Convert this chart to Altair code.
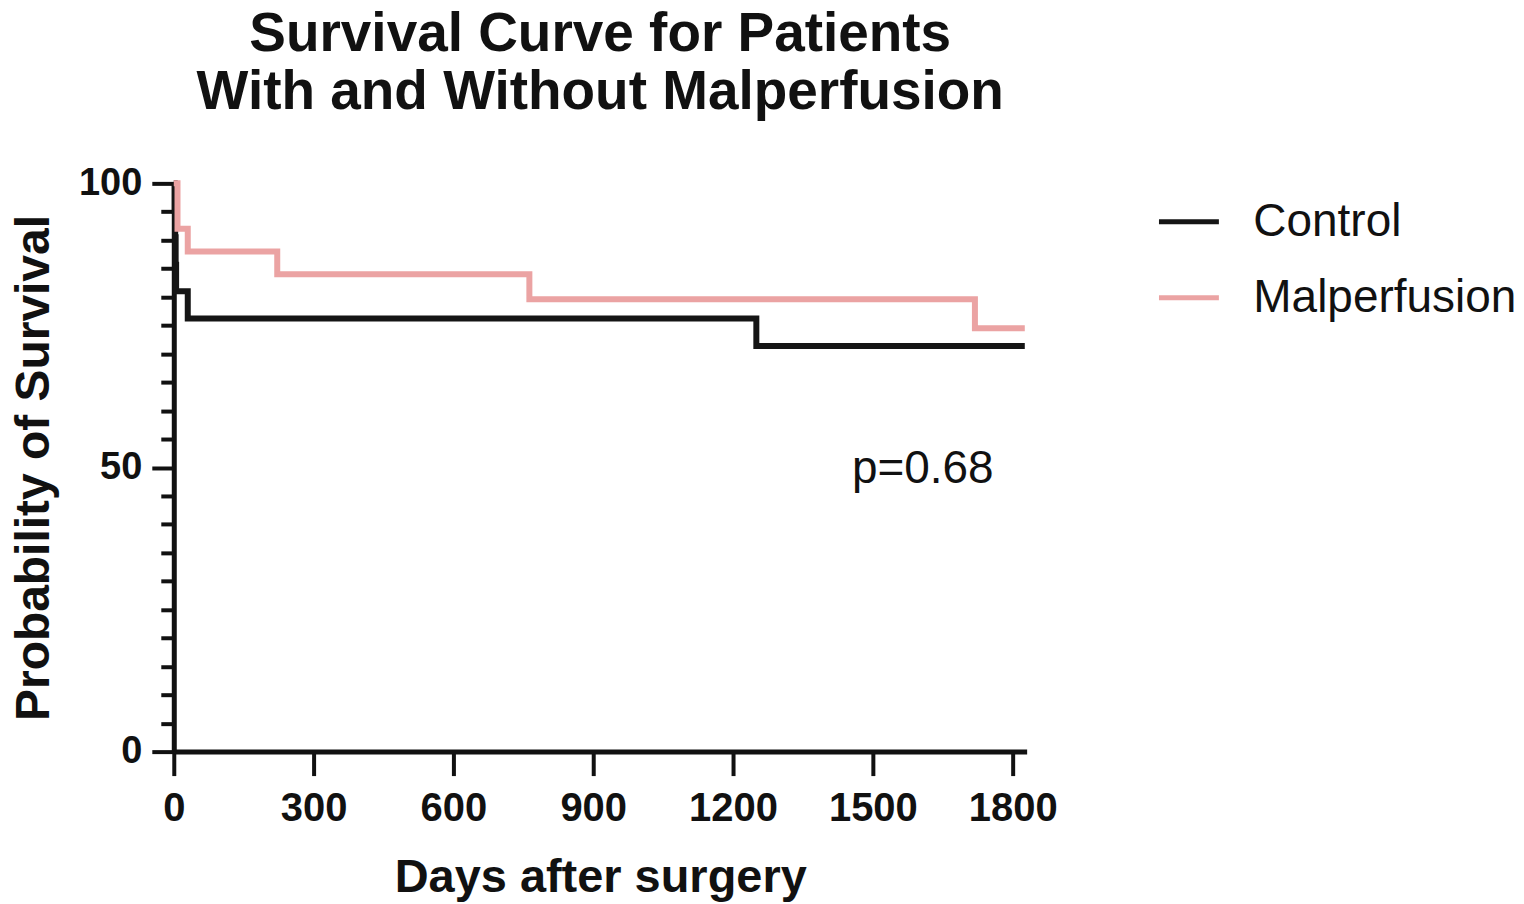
import altair as alt
import pandas as pd

# Kaplan-Meier step data
control_days = [0, 2, 3, 4, 5, 30, 1250, 1826]
control_surv = [100, 95.2, 90.5, 85.7, 81.0, 76.2, 71.4, 71.4]
mal_days = [0, 8, 30, 222, 763, 1719, 1826]
mal_surv = [100, 92.0, 88.0, 84.0, 79.6, 74.5, 74.5]
groups = ["Control", "Malperfusion"]
colors = ["#151515", "#EBA3A3"]
x_ticks = [0, 300, 600, 900, 1200, 1500, 1800]
y_ticks = list(range(0, 101, 5))
p_label = ["p=0.68"]
p_day = [1455]
p_surv = [47.3]

FONT = "Liberation Sans"

rows = []
for d, s in zip(control_days, control_surv):
    rows.append({"day": d, "surv": s, "group": groups[0]})
for d, s in zip(mal_days, mal_surv):
    rows.append({"day": d, "surv": s, "group": groups[1]})
df = pd.DataFrame(rows)
ann = pd.DataFrame({"day": p_day, "surv": p_surv, "label": p_label})

xscale = alt.Scale(domain=[0, 1830], nice=False, zero=True)
yscale = alt.Scale(domain=[0, 100], nice=False)

xaxis = alt.Axis(
    values=x_ticks, format="d", title="Days after surgery", grid=False,
    domainColor="#111", domainWidth=5, tickColor="#111", tickWidth=4, tickSize=24,
    labelFont=FONT, labelFontSize=40, labelFontWeight="bold", labelColor="#111",
    labelPadding=13, labelFlush=False,
    titleFont=FONT, titleFontSize=47, titleFontWeight="bold", titleColor="#111",
    titlePadding=26,
)
yaxis = alt.Axis(
    values=y_ticks, title="Probability of Survival", grid=False,
    labelExpr="datum.value % 50 === 0 ? datum.label : ''",
    domainColor="#111", domainWidth=5, tickColor="#111", tickWidth=4,
    tickSize={"condition": {"test": "datum.value % 50 === 0", "value": 22}, "value": 13},
    labelFont=FONT, labelFontSize=38, labelFontWeight="bold", labelColor="#111",
    labelPadding=10, labelFlush=False,
    titleFont=FONT, titleFontSize=48, titleFontWeight="bold", titleColor="#111",
    titlePadding=20,
)

lines = alt.Chart(df).mark_line(interpolate="step-after", strokeWidth=6).encode(
    x=alt.X("day:Q", scale=xscale, axis=xaxis),
    y=alt.Y("surv:Q", scale=yscale, axis=yaxis),
    color=alt.Color(
        "group:N",
        scale=alt.Scale(domain=groups, range=colors),
        legend=alt.Legend(
            title=None, orient="none", legendX=984, legendY=6,
            symbolType="stroke", symbolSize=3600, symbolStrokeWidth=5,
            labelFont=FONT, labelFontSize=46, labelColor="#111", labelOffset=32,
            rowPadding=20, labelLimit=400,
        ),
    ),
    order=alt.Order("day:Q"),
)

text = alt.Chart(ann).mark_text(
    align="left", baseline="alphabetic", font=FONT, fontSize=46, color="#111"
).encode(
    x=alt.X("day:Q", scale=xscale, axis=xaxis),
    y=alt.Y("surv:Q", scale=yscale, axis=yaxis),
    text="label:N",
)

chart = alt.layer(lines, text).properties(
    width=854,
    height=569,
    autosize=alt.AutoSizeParams(type="none"),
    padding={"left": 166, "top": 175, "right": 490, "bottom": 160},
    title=alt.TitleParams(
        text=["Survival Curve for Patients", "With and Without Malperfusion"],
        font=FONT, fontSize=55, fontWeight="bold", color="#111",
        lineHeight=59, anchor="middle", offset=43,
    ),
).configure_view(stroke=None)

chart.save("out.html", embed_options={"renderer": "svg", "actions": False})
